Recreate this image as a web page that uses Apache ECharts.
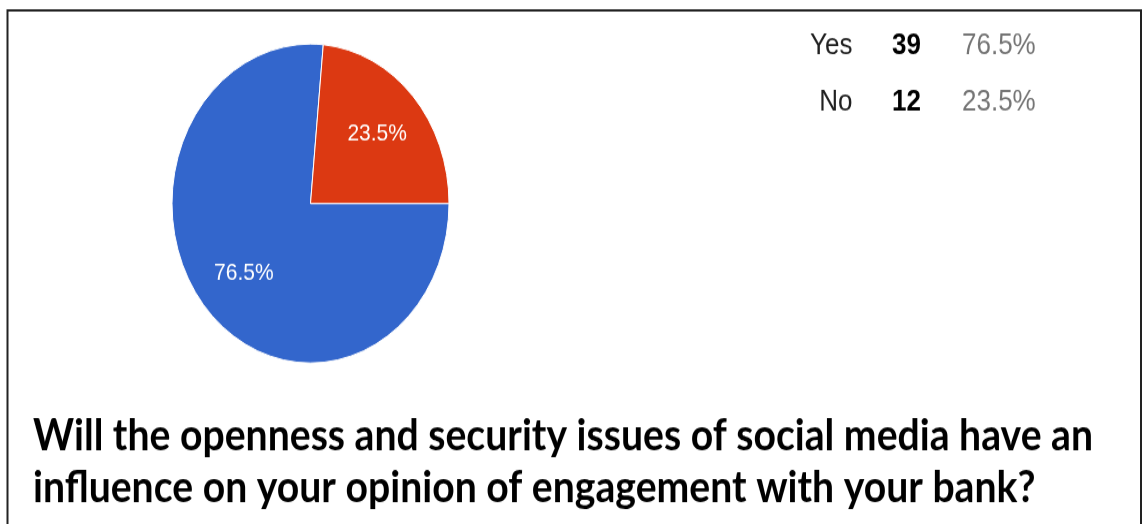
<!DOCTYPE html>
<html>
<head>
<meta charset="utf-8">
<script src="https://cdn.jsdelivr.net/npm/echarts@6/dist/echarts.min.js"></script>
<style>
  html, body { margin: 0; padding: 0; background: #fff; overflow: hidden; }
  #wrap { width: 1144px; height: 524px; overflow: hidden; }
  /* the whole figure is drawn in a frame that is stretched vertically */
  #chart { width: 1144px; height: 455px; transform: scaleY(1.1516); transform-origin: 0 0; }
</style>
</head>
<body>
<div id="wrap"><div id="chart"></div></div>
<script>
// Survey answers
const categories = ['Yes', 'No'];
const counts = [39, 12];
const sliceColors = ['#3366cc', '#dc3912'];
const questionLines = [
  'Will the openness and security issues of social media have an',
  'influence on your opinion of engagement with your bank?'
];

const total = counts.reduce((a, b) => a + b, 0);
const pieData = categories.map((name, i) => ({
  name: name,
  value: counts[i],
  itemStyle: { color: sliceColors[i] }
}));

const pieCenter = [310.5, 176.7];
const pieRadius = 138.5;

// question text: fit the first line to its target width
const titleFontSize = 38.5;
const titleFont = 'bold ' + titleFontSize + 'px Lato';
const measureCtx = document.createElement('canvas').getContext('2d');
measureCtx.font = titleFont;
const titleScale = 1060 / measureCtx.measureText(questionLines[0]).width;
const titleBaselines = [393.0, 438.2];

const legendFont = '26px "Liberation Sans", Arial, sans-serif';
const legendBold = 'bold 26px "Liberation Sans", Arial, sans-serif';
const legendRows = [39.4, 89.2];

const graphics = [];
// frame
graphics.push({
  type: 'rect',
  shape: { x: 7.5, y: 8.9, width: 1133.5, height: 600 },
  style: { fill: 'none', stroke: '#222', lineWidth: 2 },
  silent: true
});
// summary table: answer, count, share
categories.forEach((name, i) => {
  const y = legendRows[i];
  graphics.push({ type: 'text', x: 852.5, y: y, silent: true,
    style: { text: name, font: legendFont, fill: '#212121', textAlign: 'right', textVerticalAlign: 'middle' } });
  graphics.push({ type: 'text', x: 892, y: y, silent: true,
    style: { text: String(counts[i]), font: legendBold, fill: '#000', textAlign: 'left', textVerticalAlign: 'middle' } });
  graphics.push({ type: 'text', x: 962, y: y, silent: true,
    style: { text: (counts[i] / total * 100).toFixed(1) + '%', font: legendFont, fill: '#757575', textAlign: 'left', textVerticalAlign: 'middle' } });
});
// question
questionLines.forEach((line, i) => {
  graphics.push({ type: 'text', x: 33, y: titleBaselines[i] - 0.37 * titleFontSize,
    scaleX: titleScale, silent: true,
    style: { text: line, font: titleFont, fill: '#000', textAlign: 'left', textVerticalAlign: 'middle' } });
});

const chart = echarts.init(document.getElementById('chart'), null, { renderer: 'canvas' });
chart.setOption({
  animation: false,
  backgroundColor: '#fff',
  graphic: { elements: graphics },
  series: [
    {
      // visible slices
      type: 'pie',
      center: pieCenter,
      radius: [0, pieRadius],
      startAngle: 0,
      clockwise: true,
      silent: true,
      label: { show: false },
      labelLine: { show: false },
      itemStyle: { borderColor: '#fff', borderWidth: 1 },
      data: pieData
    },
    {
      // transparent ring that carries the percentage labels
      type: 'pie',
      center: pieCenter,
      radius: [36, pieRadius],
      startAngle: 0,
      clockwise: true,
      silent: true,
      percentPrecision: 1,
      itemStyle: { color: 'rgba(0,0,0,0)', borderWidth: 0 },
      label: {
        show: true,
        position: 'inside',
        formatter: '{d}%',
        color: '#fff',
        fontSize: 21,
        fontFamily: '"Liberation Sans", Arial, sans-serif'
      },
      labelLine: { show: false },
      data: categories.map((name, i) => ({ name: name, value: counts[i] }))
    }
  ]
});
</script>
</body>
</html>
